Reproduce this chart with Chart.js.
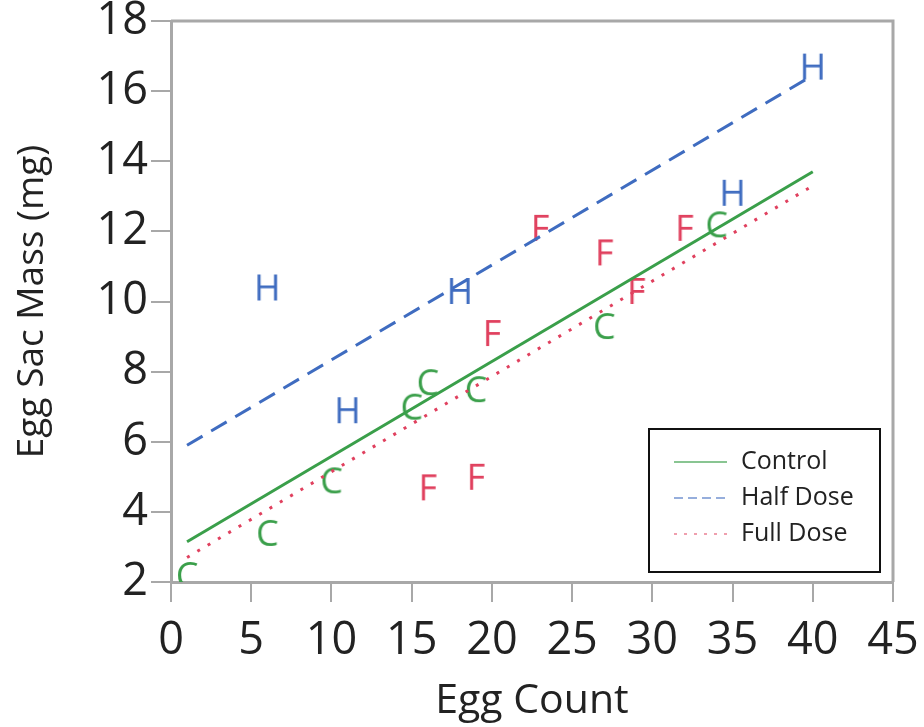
<!DOCTYPE html>
<html><head><meta charset="utf-8">
<script src="https://cdn.jsdelivr.net/npm/chart.js@4.4.1/dist/chart.umd.min.js"></script>
<style>html,body{margin:0;padding:0;background:#fff;}#wrap{width:924px;height:727px;}</style>
</head><body><div id="wrap"><canvas id="c" width="924" height="727"></canvas></div>
<script>
// ---- data ----
const controlX = [1, 6, 10, 15, 16, 19, 27, 34];
const controlY = [2.2, 3.4, 4.9, 7.0, 7.7, 7.5, 9.3, 12.2];
const halfX = [6, 11, 18, 35, 40];
const halfY = [10.4, 6.9, 10.3, 13.1, 16.7];
const fullX = [16, 19, 20, 23, 27, 29, 32];
const fullY = [4.7, 5.0, 9.1, 12.1, 11.4, 10.3, 12.1];
const fitX = [1, 40];
const controlFit = [3.15, 13.7];
const halfFit = [5.9, 16.45];
const fullFit = [2.7, 13.3];
const seriesNames = ['Control', 'Half Dose', 'Full Dose'];
const markerLetters = ['C', 'H', 'F'];
const xTicks = [0, 5, 10, 15, 20, 25, 30, 35, 40, 45];
const yTicks = [2, 4, 6, 8, 10, 12, 14, 16, 18];

const GREEN = '#3a9f4a', BLUE = '#3f6cc0', RED = '#e0405e';
const FONT = '"Open Sans", "Noto Sans", sans-serif';

function pts(xs, ys) { return xs.map((x, i) => ({x: x, y: ys[i]})); }
function letterMarker(ch, color) {
  const s = 50, fs = 36;
  const cv = document.createElement('canvas');
  cv.width = s; cv.height = s;
  const g = cv.getContext('2d');
  g.font = fs + 'px ' + FONT;
  g.fillStyle = color;
  g.textAlign = 'center';
  g.textBaseline = 'alphabetic';
  g.fillText(ch, s / 2, s / 2 + fs * 0.714 / 2);
  return cv;
}

const frame = {
  id: 'frame',
  afterDraw(chart) {
    const {ctx, chartArea: a} = chart;
    ctx.save();
    ctx.strokeStyle = '#a8a8a8';
    ctx.lineWidth = 3;
    ctx.beginPath();
    ctx.moveTo(a.left, a.top); ctx.lineTo(a.right, a.top); ctx.lineTo(a.right, a.bottom);
    ctx.stroke();
    // legend box
    const bx = a.right - 244, by = a.bottom - 153, bw = 231, bh = 143;
    ctx.fillStyle = '#fff';
    ctx.fillRect(bx, by, bw, bh);
    ctx.strokeStyle = '#111';
    ctx.lineWidth = 2;
    ctx.strokeRect(bx, by, bw, bh);
    const styles = [
      {c: 'rgba(58,159,74,0.6)', d: []},
      {c: 'rgba(63,108,192,0.55)', d: [9, 5]},
      {c: 'rgba(224,64,94,0.5)', d: [3, 7]}
    ];
    ctx.font = '25px ' + FONT;
    ctx.fillStyle = '#222';
    ctx.textBaseline = 'middle';
    seriesNames.forEach((n, i) => {
      const y = by + 33 + i * 36;
      ctx.strokeStyle = styles[i].c;
      ctx.lineWidth = 2;
      ctx.setLineDash(styles[i].d);
      ctx.beginPath(); ctx.moveTo(bx + 25, y); ctx.lineTo(bx + 78, y); ctx.stroke();
      ctx.setLineDash([]);
      ctx.fillText(n, bx + 92, y);
    });
    ctx.restore();
  }
};

const lineDs = (label, ys, color, dash) => ({
  type: 'line', label: label, data: pts(fitX, ys), borderColor: color, borderWidth: 3,
  borderDash: dash, pointRadius: 0, fill: false, showLine: true, order: 1
});
const ptDs = (label, xs, ys, ch, color) => ({
  type: 'scatter', label: label, data: pts(xs, ys), pointStyle: letterMarker(ch, color),
  pointRadius: 10, order: 2
});

new Chart(document.getElementById('c'), {
  data: {
    datasets: [
      lineDs('Control fit', controlFit, GREEN, []),
      lineDs('Half Dose fit', halfFit, BLUE, [18, 10]),
      lineDs('Full Dose fit', fullFit, RED, [3, 9]),
      ptDs('Control', controlX, controlY, markerLetters[0], GREEN),
      ptDs('Half Dose', halfX, halfY, markerLetters[1], BLUE),
      ptDs('Full Dose', fullX, fullY, markerLetters[2], RED)
    ]
  },
  options: {
    responsive: false, animation: false, devicePixelRatio: 1,
    layout: {padding: {top: 21, right: 31, left: 0, bottom: 0}},
    plugins: {legend: {display: false}, tooltip: {enabled: false}},
    scales: {
      x: {
        type: 'linear', min: 0, max: 45,
        afterBuildTicks: s => { s.ticks = xTicks.map(v => ({value: v})); },
        afterFit: s => { s.height = 145; s.paddingLeft = 0; s.paddingRight = 0; },
        ticks: {font: {size: 45, family: FONT}, color: '#222', padding: 12},
        grid: {drawOnChartArea: false, tickLength: 20, color: '#a8a8a8', lineWidth: 2},
        border: {color: '#a8a8a8', width: 3},
        title: {display: true, text: 'Egg Count', font: {size: 41, family: FONT}, color: '#222', padding: {top: 0, bottom: 1}}
      },
      y: {
        type: 'linear', min: 2, max: 18,
        afterBuildTicks: s => { s.ticks = yTicks.map(v => ({value: v})); },
        afterFit: s => { s.width = 171; s.paddingTop = 0; s.paddingBottom = 0; },
        ticks: {font: {size: 45, family: FONT}, color: '#222', padding: 3},
        grid: {drawOnChartArea: false, tickLength: 20, color: '#a8a8a8', lineWidth: 2},
        border: {color: '#a8a8a8', width: 3},
        title: {display: true, text: 'Egg Sac Mass (mg)', font: {size: 37, family: FONT}, color: '#222', padding: {top: 10, bottom: 0}}
      }
    }
  },
  plugins: [frame]
});
</script></body></html>
